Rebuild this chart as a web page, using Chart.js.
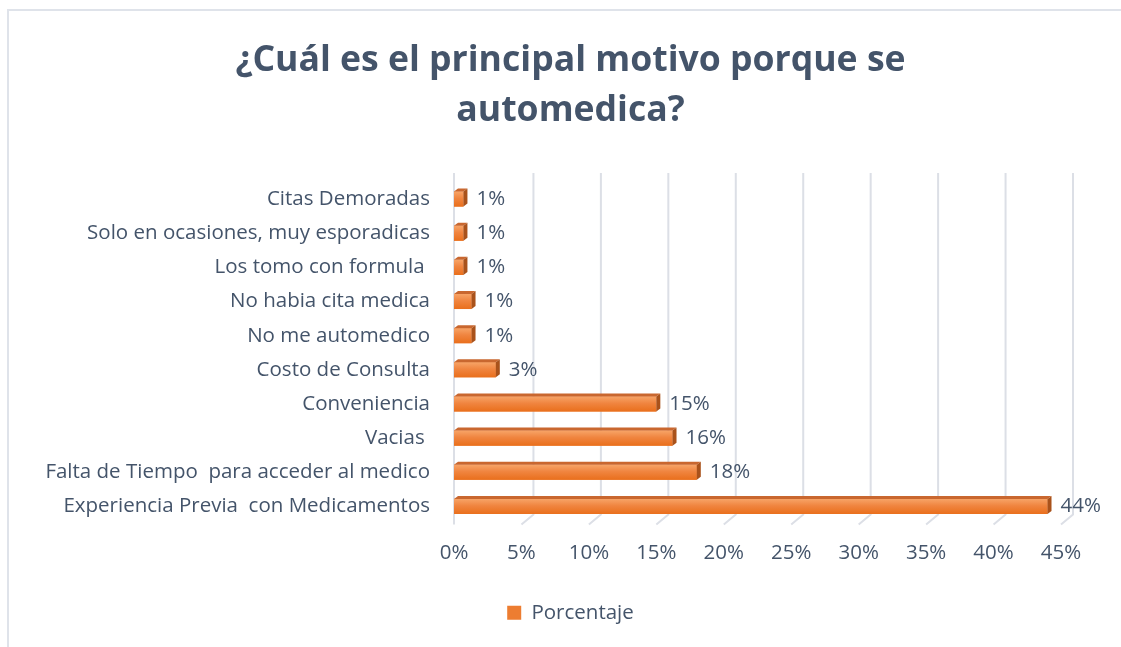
<!DOCTYPE html>
<html><head><meta charset="utf-8">
<script src="https://cdn.jsdelivr.net/npm/chart.js@4.4.0/dist/chart.umd.min.js"></script>
<style>
html,body{margin:0;padding:0;background:#fff;}
#wrap{position:relative;width:1121px;height:647px;overflow:hidden;background:#fff;}
#frame{position:absolute;left:7px;top:9px;width:2000px;height:2000px;border-left:2px solid #DFE3EA;border-top:2px solid #DFE3EA;pointer-events:none;}
</style></head><body>
<div id="wrap"><canvas id="c" width="1121" height="647"></canvas><div id="frame"></div></div>
<script>
const titleLines = ['¿Cuál es el principal motivo porque se', 'automedica?'];
const categories = [
  'Citas Demoradas',
  'Solo en ocasiones, muy esporadicas',
  'Los tomo con formula ',
  'No habia cita medica',
  'No me automedico',
  'Costo de Consulta',
  'Conveniencia',
  'Vacias ',
  'Falta de Tiempo  para acceder al medico',
  'Experiencia Previa  con Medicamentos'
];
const percentValues = [0.7, 0.7, 0.7, 1.3, 1.3, 3.1, 15.0, 16.2, 18.0, 44.0];
const seriesName = 'Porcentaje';
const xTickValues = [0, 5, 10, 15, 20, 25, 30, 35, 40, 45];

const FONT = "'Open Sans'";
const TEXT = '#44546A';
const ORANGE = '#ED7D31';
const FS = 20.5;

const grid3d = {
  id: 'grid3d',
  beforeDatasetsDraw(chart) {
    const {ctx, chartArea, scales: {x}} = chart;
    const top = chartArea.top - 9, bottom = chartArea.bottom;
    ctx.save();
    ctx.strokeStyle = '#DCDFE6';
    ctx.lineWidth = 2;
    x.ticks.forEach(t => {
      const px = x.getPixelForValue(t.value);
      ctx.beginPath();
      if (t.value === 0) {
        ctx.moveTo(px, top); ctx.lineTo(px, bottom + 1);
      } else {
        ctx.moveTo(px + 12, top); ctx.lineTo(px + 12, bottom - 9); ctx.lineTo(px, bottom + 1);
      }
      ctx.stroke();
    });
    ctx.restore();
  }
};

const bar3d = {
  id: 'bar3d',
  afterDatasetsDraw(chart) {
    const {ctx} = chart;
    const meta = chart.getDatasetMeta(0);
    const ds = chart.data.datasets[0];
    ctx.save();
    meta.data.forEach((el, i) => {
      const {x, y, base, height} = el.getProps(['x', 'y', 'base', 'height'], true);
      const t = y - height / 2, b = y + height / 2;
      const d = 4, dy = 3;
      const g = ctx.createLinearGradient(0, t, 0, b);
      g.addColorStop(0, '#F7A467');
      g.addColorStop(0.45, '#F08540');
      g.addColorStop(1, '#E96F1C');
      ctx.fillStyle = g;
      ctx.fillRect(base, t, x - base, height);
      ctx.fillStyle = '#C9672F';
      ctx.beginPath();
      ctx.moveTo(base, t); ctx.lineTo(base + d, t - dy); ctx.lineTo(x + d, t - dy); ctx.lineTo(x, t);
      ctx.closePath(); ctx.fill();
      ctx.fillStyle = '#A9521B';
      ctx.beginPath();
      ctx.moveTo(x, t); ctx.lineTo(x + d, t - dy); ctx.lineTo(x + d, b - dy); ctx.lineTo(x, b);
      ctx.closePath(); ctx.fill();
      ctx.fillStyle = TEXT;
      ctx.font = FS + 'px ' + FONT;
      ctx.textAlign = 'left';
      ctx.textBaseline = 'middle';
      ctx.fillText(Math.round(ds.data[i]) + '%', x + d + 9, y);
    });
    ctx.restore();
  }
};

new Chart(document.getElementById('c'), {
  type: 'bar',
  data: {
    labels: categories,
    datasets: [{
      label: seriesName,
      data: percentValues,
      backgroundColor: ORANGE,
      borderWidth: 0,
      barPercentage: 0.44,
      categoryPercentage: 1.0
    }]
  },
  options: {
    indexAxis: 'y',
    responsive: false,
    animation: false,
    events: [],
    layout: {padding: {left: 20, right: 0, top: 0, bottom: 14}},
    plugins: {
      title: {
        display: true,
        text: titleLines,
        color: TEXT,
        font: {family: FONT, size: 35.6, weight: 'bold', lineHeight: 50 / 35.6},
        padding: {top: 36, bottom: 46}
      },
      legend: {
        display: true,
        position: 'bottom',
        labels: {
          color: TEXT,
          font: {family: FONT, size: FS},
          boxWidth: 14,
          boxHeight: 14,
          padding: 9
        }
      },
      tooltip: {enabled: false}
    },
    scales: {
      x: {
        min: 0, max: 45,
        afterBuildTicks: s => { s.ticks = xTickValues.map(v => ({value: v})); },
        afterFit: s => { s.height = 70; s.paddingRight = 0; s.paddingLeft = 0; },
        grid: {display: false, drawTicks: false},
        border: {display: false},
        ticks: {
          color: TEXT,
          font: {family: FONT, size: FS},
          padding: 17,
          maxRotation: 0,
          callback: v => v + '%'
        }
      },
      y: {
        afterFit: s => { s.width = 434; },
        grid: {display: false, drawTicks: false},
        border: {display: false},
        ticks: {
          color: TEXT,
          font: {family: FONT, size: FS},
          padding: 24,
          autoSkip: false
        }
      },
      yRight: {
        type: 'linear',
        position: 'right',
        display: true,
        afterFit: s => { s.width = 60; },
        grid: {display: false, drawTicks: false},
        border: {display: false},
        ticks: {display: false}
      }
    }
  },
  plugins: [grid3d, bar3d]
});
</script>
</body></html>
